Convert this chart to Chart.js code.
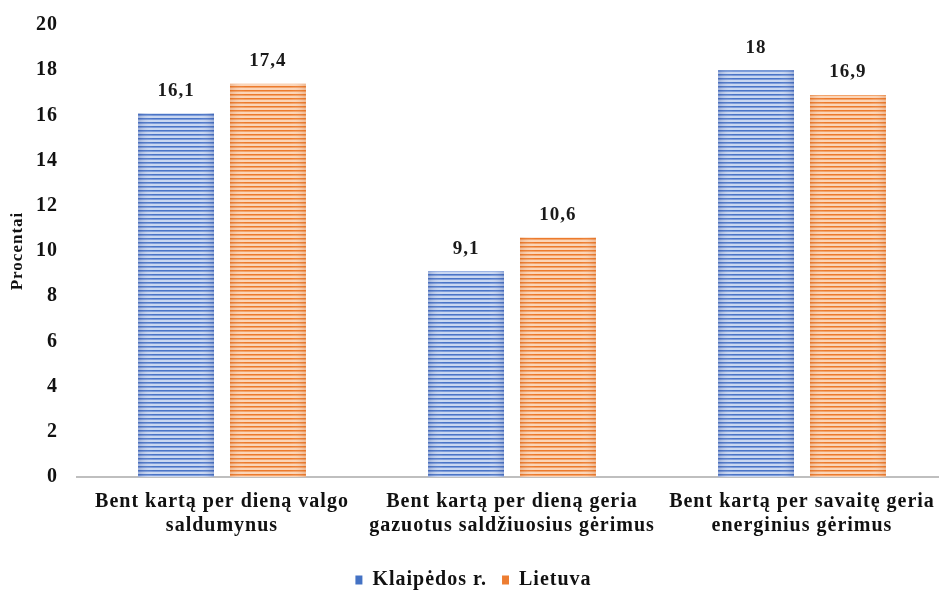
<!DOCTYPE html>
<html>
<head>
<meta charset="utf-8">
<script src="https://cdn.jsdelivr.net/npm/chart.js@4/dist/chart.umd.min.js"></script>
<style>
  html, body { margin: 0; padding: 0; background: #fff; overflow: hidden; width: 939px; height: 590px; }
  #wrap { position: relative; width: 950px; height: 596px; margin-top: -6px; }
</style>
</head>
<body>
<div id="wrap"><canvas id="chart" width="950" height="596"></canvas></div>
<script>
// Category labels (two lines each)
const categories = [
  ['Bent kartą per dieną valgo', 'saldumynus'],
  ['Bent kartą per dieną geria', 'gazuotus saldžiuosius gėrimus'],
  ['Bent kartą per savaitę geria', 'energinius gėrimus']
];
const seriesNames = ['Klaipėdos r.', 'Lietuva'];
const klaipedosValues = [16.1, 9.1, 18];
const lietuvaValues = [17.4, 10.6, 16.9];
const yTicks = [0, 2, 4, 6, 8, 10, 12, 14, 16, 18, 20];

const FONT = '"Liberation Serif", "Times New Roman", serif';

// Horizontal striped fill for the bars
function stripes(dark, mid, light) {
  const c = document.createElement('canvas');
  c.width = 4; c.height = 4;
  const g = c.getContext('2d');
  g.fillStyle = light; g.fillRect(0, 0, 4, 4);
  g.fillStyle = dark; g.fillRect(0, 0, 4, 1);
  g.fillStyle = mid; g.fillRect(0, 1, 4, 1);
  return g.createPattern(c, 'repeat');
}
const ctx = document.getElementById('chart').getContext('2d');
const bluePattern = stripes('#4a74c6', '#7e9ddb', '#c9d7f1');
const orangePattern = stripes('#ec7a2c', '#f3a46c', '#fbd5b8');
const edgeShade = ['rgba(40,70,150,0.28)', 'rgba(200,90,20,0.25)'];

// Slightly spaced-out lettering for all text
const spacing = {
  id: 'spacing',
  beforeUpdate(chart) { chart.ctx.letterSpacing = '1px'; },
  beforeLayout(chart) { chart.ctx.letterSpacing = '1px'; },
  beforeDraw(chart) { chart.ctx.letterSpacing = '1px'; }
};

// Darker shading toward the left and right edges of each bar
const barShade = {
  id: 'barShade',
  afterDatasetsDraw(chart) {
    const c = chart.ctx;
    c.save();
    chart.data.datasets.forEach((ds, i) => {
      chart.getDatasetMeta(i).data.forEach(bar => {
        const l = bar.x - bar.width / 2, r = bar.x + bar.width / 2;
        const g = c.createLinearGradient(l, 0, r, 0);
        g.addColorStop(0, edgeShade[i]);
        g.addColorStop(0.2, 'rgba(255,255,255,0)');
        g.addColorStop(0.8, 'rgba(255,255,255,0)');
        g.addColorStop(1, edgeShade[i]);
        c.fillStyle = g;
        c.fillRect(l, bar.y, bar.width, bar.base - bar.y);
      });
    });
    c.restore();
  }
};

// Value labels above each bar, decimal comma
const valueLabels = {
  id: 'valueLabels',
  afterDatasetsDraw(chart) {
    const c = chart.ctx;
    c.save();
    c.letterSpacing = '1px';
    c.font = 'bold 19px ' + FONT;
    c.fillStyle = '#1a1a1a';
    c.textAlign = 'center';
    c.textBaseline = 'bottom';
    chart.data.datasets.forEach((ds, i) => {
      chart.getDatasetMeta(i).data.forEach((bar, j) => {
        const txt = String(ds.data[j]).replace('.', ',');
        c.fillText(txt, bar.x, bar.y - 13);
      });
    });
    c.restore();
  }
};

new Chart(ctx, {
  type: 'bar',
  data: {
    labels: categories,
    datasets: [
      { label: seriesNames[0], data: klaipedosValues, backgroundColor: bluePattern, legendColor: '#4472c4' },
      { label: seriesNames[1], data: lietuvaValues, backgroundColor: orangePattern, legendColor: '#ed7d31' }
    ]
  },
  options: {
    responsive: false,
    animation: false,
    layout: { autoPadding: false, padding: { top: 18, left: 0, right: 3, bottom: -10 } },
    datasets: { bar: { barPercentage: 0.826, categoryPercentage: 0.634 } },
    scales: {
      x: {
        grid: { display: false, drawTicks: false },
        border: { display: true, color: '#bfbfbf', width: 2 },
        ticks: { color: '#111', font: { family: FONT, size: 20, weight: 'bold', lineHeight: 1.2 }, padding: 13, maxRotation: 0, autoSkip: false },
        afterFit(axis) { axis.height += 4; }
      },
      y: {
        min: 0, max: 20,
        afterBuildTicks(axis) { axis.ticks = yTicks.map(v => ({ value: v })); },
        afterFit(axis) { axis.width = 77; },
        grid: { display: false, drawTicks: false },
        border: { display: false },
        ticks: { color: '#111', font: { family: FONT, size: 20, weight: 'bold' }, padding: 19 },
        title: { display: true, text: 'Procentai', color: '#111', font: { family: FONT, size: 17, weight: 'bold' }, padding: { top: 7, bottom: 0 } }
      }
    },
    plugins: {
      tooltip: { enabled: false },
      legend: {
        position: 'bottom',
        labels: {
          color: '#111',
          font: { family: FONT, size: 20, weight: 'bold' },
          boxWidth: 7, boxHeight: 9, padding: 15,
          generateLabels(chart) {
            return chart.data.datasets.map((ds, i) => ({
              text: ds.label, fillStyle: ds.legendColor, strokeStyle: ds.legendColor,
              lineWidth: 0, datasetIndex: i, fontColor: '#111'
            }));
          }
        }
      }
    }
  },
  plugins: [spacing, barShade, valueLabels]
});
</script>
</body>
</html>
